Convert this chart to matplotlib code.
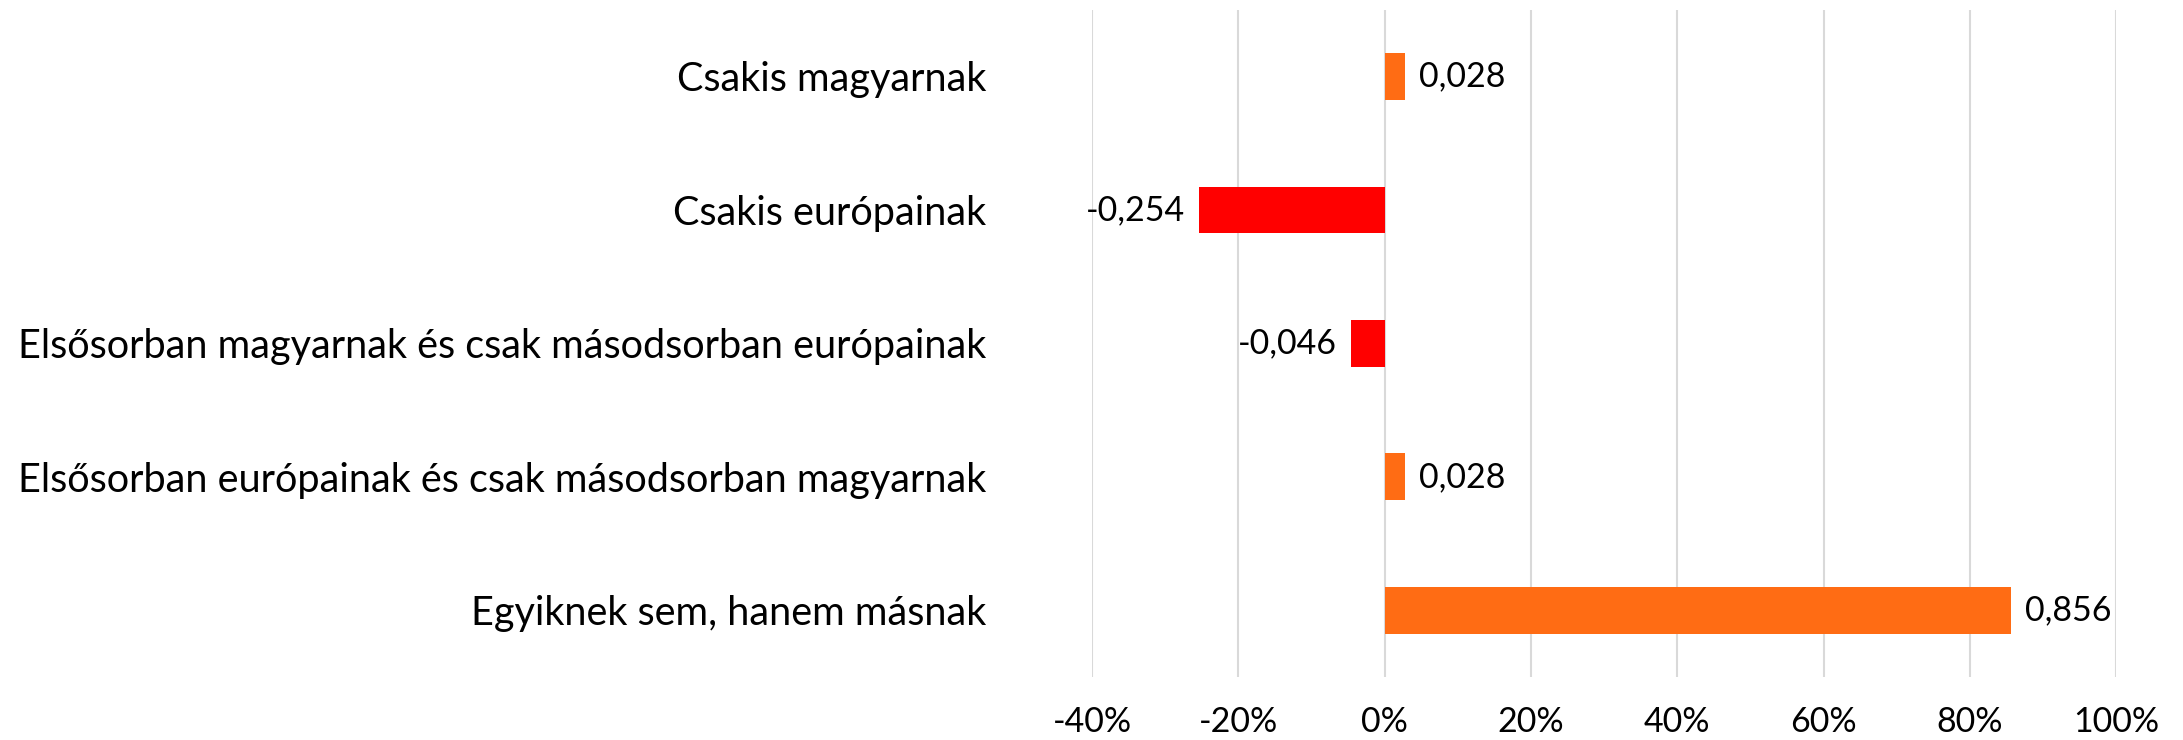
import numpy as np
import matplotlib.pyplot as plt
from matplotlib.ticker import FuncFormatter

plt.rcParams['font.family'] = ['Lato', 'DejaVu Sans']

categories = ['Csakis magyarnak',
              'Csakis európainak',
              'Elsősorban magyarnak és csak másodsorban európainak',
              'Elsősorban európainak és csak másodsorban magyarnak',
              'Egyiknek sem, hanem másnak']
values = [0.028, -0.254, -0.046, 0.028, 0.856]
labels = ['0,028', '-0,254', '-0,046', '0,028', '0,856']
ticks = [-0.4, -0.2, 0, 0.2, 0.4, 0.6, 0.8, 1.0]

fig = plt.figure(figsize=(21.83, 7.4), dpi=100)
ax = fig.add_axes([0.5003, 0.085, 0.4691, 0.902])

y = np.arange(len(categories))[::-1]
colors = ['#FF6C14' if v >= 0 else '#FF0000' for v in values]
ax.barh(y, values, height=0.35, color=colors, zorder=2)

for yi, v, lab in zip(y, values, labels):
    if v >= 0:
        ax.annotate(lab, (v, yi), xytext=(10, 0), textcoords='offset points',
                    ha='left', va='center', fontsize=24.5)
    else:
        ax.annotate(lab, (v, yi), xytext=(-10, 0), textcoords='offset points',
                    ha='right', va='center', fontsize=24.5)

ax.set_xlim(-0.4, 1.0)
ax.set_ylim(-0.5, len(categories) - 0.5)
ax.set_xticks(ticks)
ax.xaxis.set_major_formatter(FuncFormatter(lambda v, p: '%d%%' % round(v * 100)))
ax.set_yticks(y)
ax.set_yticklabels(categories)
ax.tick_params(axis='y', length=0, pad=76, labelsize=28.5)
ax.tick_params(axis='x', length=0, pad=21, labelsize=24.5)
ax.grid(axis='x', color='#D9D9D9', linewidth=1.5, zorder=0)
for s in ax.spines.values():
    s.set_visible(False)

fig.savefig('out.png', dpi=100)
